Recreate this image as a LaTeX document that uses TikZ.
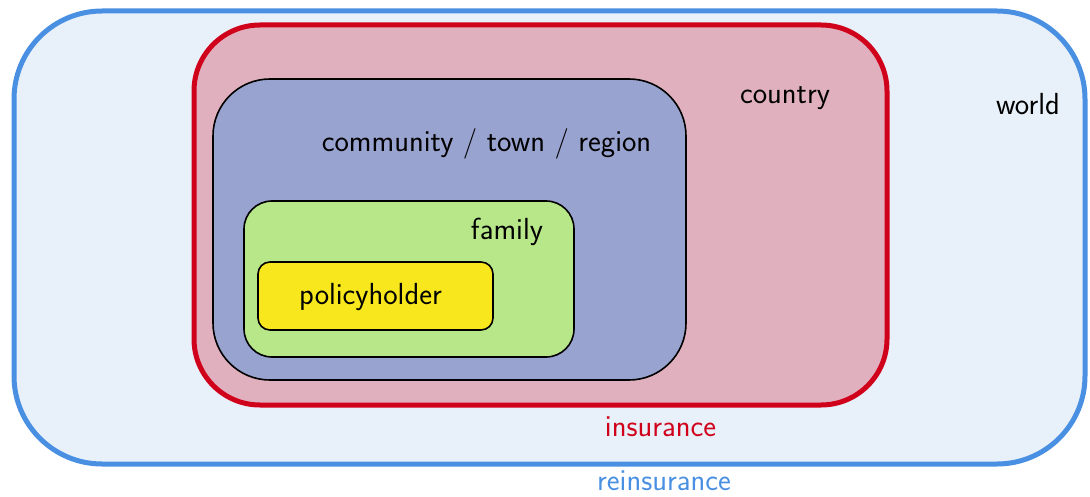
\documentclass[tikz,border=0pt]{standalone}
\usepackage{fontspec}
\renewcommand{\familydefault}{\sfdefault}
\definecolor{worldfill}{HTML}{E8F0FA}
\definecolor{worldline}{HTML}{4A90E2}
\definecolor{countryfill}{HTML}{E1B0BE}
\definecolor{countryline}{HTML}{D0021B}
\definecolor{regionfill}{HTML}{99A3D0}
\definecolor{familyfill}{HTML}{B8E78A}
\definecolor{holderfill}{HTML}{F8E71C}
\tikzset{
  area/.style={rectangle, inner sep=0pt, outer sep=0pt},
  lbl/.style={inner sep=0pt, font=\fontsize{30.5}{34}\selectfont\sffamily, anchor=base},
}
\begin{document}
\begin{tikzpicture}[x=1pt,y=-1pt]
\useasboundingbox (0,0) rectangle (1090,497);
\node[area, draw=worldline, fill=worldfill, line width=5pt, rounded corners=88pt,
  minimum width=1071pt, minimum height=453pt] (world) at (549.5,237.5) {};
\node[area, draw=countryline, fill=countryfill, line width=5pt, rounded corners=66pt,
  minimum width=693pt, minimum height=380pt] (country) at (540.5,215) {};
\node[area, draw=black, fill=regionfill, line width=1.6pt, rounded corners=57pt,
  minimum width=473pt, minimum height=301pt] (region) at (449.5,229.5) {};
\node[area, draw=black, fill=familyfill, line width=1.6pt, rounded corners=28pt,
  minimum width=330pt, minimum height=156pt] (family) at (409,279) {};
\node[area, draw=black, fill=holderfill, line width=1.6pt, rounded corners=12pt,
  minimum width=235pt, minimum height=68pt] (holder) at (375.5,296) {};
\node[lbl] (tworld) at (1028,115) {world};
\node[lbl] (tcountry) at (785,104) {country};
\node[lbl] (tregion) at (486.5,152) {community / town / region};
\node[lbl] (tfamily) at (507,240) {family};
\node[lbl] (tholder) at (370.5,305) {policyholder};
\node[lbl, text=countryline] (tins) at (660.5,436) {insurance};
\node[lbl, text=worldline] (treins) at (664,490.5) {reinsurance};
\end{tikzpicture}
\end{document}
